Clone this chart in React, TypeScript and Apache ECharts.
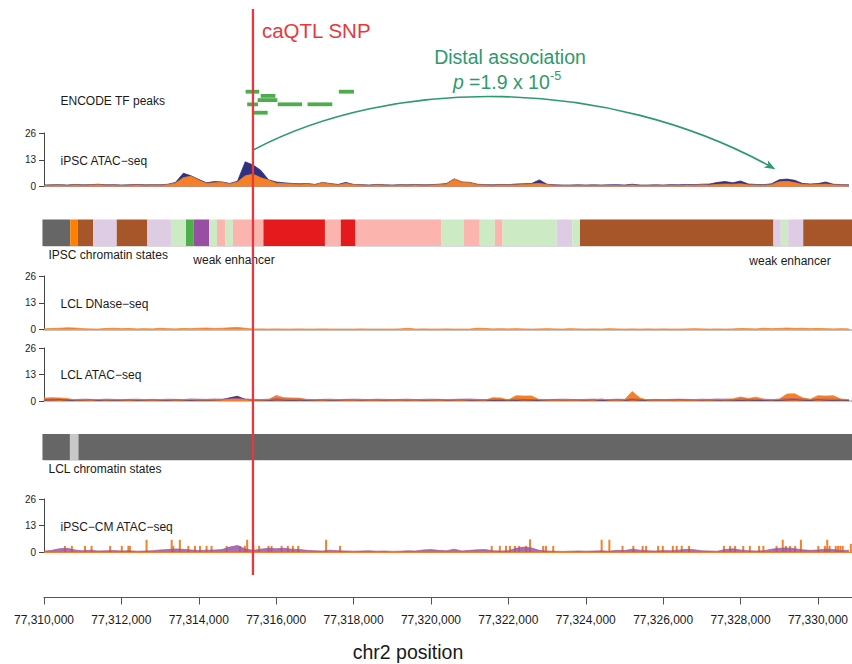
import React, { useEffect, useRef } from "react";
import * as echarts from "echarts";

// ---- genomic window (chr2) ----
const X_MIN = 77310000;
const X_MAX = 77330880;
const X_TICKS = [
  77310000, 77312000, 77314000, 77316000, 77318000, 77320000, 77322000,
  77324000, 77326000, 77328000, 77330000,
];
const BIN_SIZE = 200;
const SNP_POS = 77315400;
const DISTAL_POS = 77328900;
const TRACK_TICKS = [0, 13, 26];

// ENCODE TF peaks: [start, end, row]
const TF_PEAKS = [
  [77315210, 77315560, 0],
  [77317620, 77318010, 0],
  [77315600, 77315980, 1],
  [77315520, 77316030, 2],
  [77315250, 77315530, 3],
  [77316040, 77316670, 3],
  [77316810, 77317450, 3],
  [77315380, 77315780, 5],
];

// iPSC ATAC-seq signal, 200 bp bins from X_MIN
const IPSC_ATAC_DARK = [
  0.7, 0.8, 0.9, 0.7, 1.0, 0.8, 0.9, 1.1, 0.8, 0.9,
  0.7, 0.8, 1.0, 0.8, 0.9, 0.8, 1.1, 2.0, 6.5, 5.2,
  3.4, 1.8, 2.4, 2.2, 1.5, 2.6, 12.0, 10.5, 7.9, 3.3,
  2.2, 1.8, 1.5, 1.3, 1.5, 1.0, 2.0, 1.4, 1.0, 2.0,
  1.0, 0.9, 0.7, 1.0, 0.8, 0.7, 0.9, 0.8, 1.0, 0.8,
  0.9, 1.1, 1.4, 3.7, 2.2, 2.0, 1.1, 0.9, 0.8, 1.0,
  0.9, 1.2, 1.3, 1.5, 3.2, 1.1, 0.8, 0.7, 0.7, 0.8,
  0.7, 0.8, 0.7, 0.8, 0.9, 0.7, 1.1, 0.7, 0.7, 0.8,
  0.7, 0.9, 0.8, 1.0, 0.9, 1.1, 1.2, 2.0, 2.4, 1.8,
  2.7, 1.2, 1.0, 0.9, 1.3, 3.3, 3.6, 3.0, 1.5, 1.2,
  1.4, 2.2, 1.1, 0.9, 0.8,
];
const IPSC_ATAC_ORANGE = [
  0.5, 0.6, 0.7, 0.5, 0.8, 0.6, 0.7, 0.9, 0.6, 0.7,
  0.5, 0.6, 0.8, 0.6, 0.7, 0.6, 0.9, 1.6, 4.3, 5.0,
  3.0, 1.5, 1.8, 2.0, 1.2, 2.2, 5.2, 6.0, 4.3, 3.1,
  1.6, 1.4, 1.2, 1.0, 1.3, 0.8, 1.9, 1.2, 0.7, 1.5,
  0.9, 0.7, 0.5, 0.8, 0.6, 0.5, 0.7, 0.6, 0.8, 0.6,
  0.7, 0.9, 1.2, 3.6, 2.0, 1.8, 0.9, 0.7, 0.6, 0.8,
  0.7, 0.8, 1.0, 1.2, 1.5, 0.9, 0.6, 0.5, 0.5, 0.6,
  0.5, 0.6, 0.5, 0.5, 0.6, 0.5, 0.7, 0.5, 0.5, 0.6,
  0.5, 0.6, 0.5, 0.7, 0.6, 0.8, 0.7, 1.0, 1.2, 1.1,
  1.3, 0.8, 0.7, 0.6, 0.9, 2.3, 2.5, 1.9, 1.0, 0.9,
  1.0, 1.2, 0.8, 0.7, 0.6,
];

// LCL DNase-seq signal
const LCL_DNASE_ORANGE = [
  0.3, 0.5, 0.6, 0.8, 0.7, 0.4, 0.3, 0.2, 0.5, 0.6,
  0.4, 0.5, 0.3, 0.4, 0.3, 0.6, 0.4, 0.3, 0.5, 0.4,
  0.6, 0.7, 0.5, 0.6, 0.8, 1.0, 0.6, 0.2, 0.3, 0.2,
  0.3, 0.2, 0.2, 0.3, 0.2, 0.2, 0.3, 0.2, 0.2, 0.2,
  0.2, 0.3, 0.2, 0.2, 0.2, 0.2, 0.3, 0.6, 0.2, 0.3,
  0.2, 0.2, 0.3, 0.2, 0.2, 0.2, 0.6, 0.5, 0.3, 0.4,
  0.3, 0.4, 0.3, 0.2, 0.3, 0.4, 0.3, 0.2, 0.4, 0.3,
  0.2, 0.3, 0.2, 0.4, 0.3, 0.2, 0.3, 0.2, 0.3, 0.2,
  0.3, 0.2, 0.2, 0.3, 0.4, 0.3, 0.2, 0.3, 0.2, 0.3,
  0.5, 0.4, 0.3, 0.6, 0.4, 0.5, 0.7, 0.5, 0.6, 0.4,
  0.5, 0.4, 0.3, 0.4, 0.3,
];

// LCL ATAC-seq signal
const LCL_ATAC_DARK = [
  0.4, 0.5, 0.6, 0.4, 0.3, 0.4, 0.5, 0.3, 0.4, 0.3,
  0.3, 0.4, 0.3, 0.3, 0.4, 0.3, 0.3, 0.4, 0.3, 0.3,
  0.4, 0.3, 0.5, 0.6, 1.6, 2.3, 0.8, 0.4, 0.3, 0.3,
  0.5, 0.4, 0.3, 0.4, 0.3, 0.3, 0.4, 0.3, 0.3, 0.4,
  0.3, 0.3, 0.4, 0.3, 0.3, 0.4, 0.3, 0.3, 0.4, 0.3,
  0.3, 0.4, 0.3, 0.3, 0.4, 0.3, 0.3, 0.4, 0.3, 0.3,
  0.4, 0.3, 0.5, 0.4, 0.3, 0.3, 0.4, 0.3, 0.3, 0.4,
  0.3, 0.4, 0.3, 0.3, 0.4, 0.3, 0.6, 0.4, 0.3, 0.3,
  0.4, 0.3, 0.6, 0.4, 0.3, 0.3, 0.4, 0.3, 0.5, 0.4,
  0.3, 0.4, 0.3, 0.3, 0.4, 0.3, 0.5, 0.6, 0.4, 0.3,
  0.6, 0.4, 0.3, 0.4, 0.3,
];
const LCL_ATAC_PURPLE = [
  0.8, 1.0, 0.9, 0.8, 0.7, 0.9, 0.8, 0.7, 0.9, 0.8,
  0.7, 0.8, 0.9, 0.7, 0.8, 0.7, 0.9, 0.8, 0.7, 1.0,
  0.9, 0.8, 1.0, 0.9, 1.2, 1.4, 1.0, 0.8, 0.7, 0.9,
  1.2, 1.0, 0.9, 1.1, 0.8, 0.7, 0.8, 0.9, 0.7, 0.8,
  0.9, 0.8, 0.7, 0.9, 0.8, 0.7, 0.8, 0.9, 0.7, 0.8,
  0.9, 0.8, 0.7, 0.8, 0.9, 1.0, 0.8, 0.7, 0.9, 0.8,
  0.7, 0.9, 0.8, 0.7, 0.8, 0.7, 0.8, 0.9, 0.8, 0.7,
  0.8, 0.9, 0.8, 0.7, 0.9, 0.8, 1.0, 0.8, 0.7, 0.8,
  0.7, 0.8, 0.9, 0.8, 0.7, 0.9, 0.8, 1.0, 0.9, 0.8,
  1.0, 0.9, 0.8, 0.9, 0.7, 0.9, 1.1, 1.2, 1.0, 0.8,
  0.9, 1.0, 0.9, 0.8, 0.7,
];
const LCL_ATAC_ORANGE = [
  1.4, 1.6, 1.5, 1.2, 0.5, 0.6, 0.4, 0.7, 0.5, 0.6,
  0.5, 0.4, 0.6, 0.5, 0.4, 0.5, 0.6, 0.4, 0.5, 0.7,
  0.6, 0.5, 0.7, 0.6, 0.8, 1.0, 0.7, 0.5, 0.4, 0.6,
  2.7, 1.6, 1.5, 1.4, 0.6, 0.5, 0.4, 0.6, 0.5, 0.4,
  0.3, 0.5, 0.4, 0.3, 0.5, 0.4, 0.3, 0.4, 0.3, 0.5,
  0.4, 0.3, 0.5, 0.4, 0.3, 0.6, 0.5, 0.4, 1.6, 1.5,
  0.5, 2.6, 2.4, 2.5, 0.6, 0.4, 0.3, 0.4, 0.3, 0.4,
  0.5, 0.3, 1.0, 0.4, 0.3, 0.5, 4.7, 1.5, 0.4, 0.3,
  0.4, 0.3, 0.5, 0.4, 0.3, 0.5, 0.4, 0.6, 0.8, 1.0,
  2.0, 1.2, 1.9, 0.8, 0.6, 0.9, 3.4, 3.5, 1.6, 0.8,
  2.6, 2.4, 2.6, 0.9, 0.7,
];

// iPSC-CM ATAC-seq: low purple signal plus narrow orange read piles [position, height]
const CM_ATAC_PURPLE = [
  0.4, 0.8, 1.6, 1.8, 1.0, 0.6, 0.9, 0.5, 0.6, 0.7,
  0.5, 0.6, 0.4, 0.5, 0.6, 1.0, 1.2, 1.5, 1.3, 1.0,
  0.7, 0.9, 1.0, 1.2, 2.4, 3.2, 1.5, 0.8, 1.4, 1.8,
  1.6, 1.8, 1.4, 1.2, 0.8, 0.6, 0.5, 0.9, 0.6, 0.5,
  0.4, 0.5, 0.6, 0.4, 0.5, 0.3, 0.4, 0.6, 0.5, 1.0,
  1.2, 0.8, 0.6, 1.4, 0.5, 0.8, 1.1, 1.2, 0.6, 0.5,
  0.6, 1.8, 2.4, 2.0, 0.8, 0.5, 0.4, 0.3, 0.4, 0.5,
  0.4, 0.5, 0.6, 0.4, 0.8, 0.7, 1.4, 0.9, 0.6, 0.5,
  0.7, 0.6, 0.9, 1.3, 1.1, 0.6, 0.5, 0.4, 1.2, 1.6,
  1.0, 0.6, 0.5, 0.6, 1.4, 1.8, 2.0, 1.6, 1.1, 0.8,
  1.0, 1.4, 1.2, 0.7, 0.9,
];
const CM_ATAC_SPIKES = [
  [77310540, 3], [77310720, 3], [77311060, 3], [77311230, 3], [77311710, 3],
  [77312010, 3], [77312180, 3], [77312220, 3], [77312650, 6], [77313300, 6],
  [77313340, 3], [77313510, 6], [77313730, 3], [77313900, 3], [77314030, 3],
  [77314200, 3], [77314330, 3], [77314720, 3], [77315060, 3], [77315190, 3],
  [77315250, 6], [77315410, 3], [77315560, 3], [77315800, 3], [77315880, 3],
  [77316140, 3], [77316300, 3], [77316430, 3], [77316570, 3], [77317290, 6],
  [77317650, 3], [77321570, 3], [77321780, 3], [77321940, 3], [77322040, 3],
  [77322170, 3], [77322280, 3], [77322460, 3], [77322560, 6.2], [77322900, 3],
  [77322970, 3], [77323160, 3], [77324410, 6], [77324610, 6], [77324950, 3],
  [77325230, 3], [77325470, 3], [77325560, 3], [77325870, 3], [77325990, 3],
  [77326250, 3], [77326350, 3], [77326480, 3], [77326670, 3], [77327570, 3],
  [77327730, 3], [77327860, 3], [77328070, 3], [77328240, 3], [77328480, 3],
  [77328590, 3], [77328930, 3], [77329090, 6], [77329170, 3], [77329280, 3],
  [77329410, 3], [77329560, 6], [77330010, 3], [77330180, 3], [77330240, 6],
  [77330300, 3], [77330460, 3], [77330520, 3], [77330580, 3], [77330640, 3],
  [77330850, 4],
];

// chromatin state segments: [start, end, state]
const STATE_NAMES = [
  "heterochromatin", "tssFlank", "transcribed", "weakTranscribed",
  "weakEnhancerAlt", "genicEnhancer", "bivalent", "weakEnhancer",
  "strongEnhancer", "lowSignal",
];
const STATE_COLORS = [
  "#666666", "#ff7f00", "#a65628", "#decbe4",
  "#ccebc5", "#4daf4a", "#984ea3", "#fbb4ae",
  "#e41a1c", "#c8c8c8",
];
const IPSC_STATES: [number, number, string][] = [
  [77309960, 77310680, "heterochromatin"],
  [77310680, 77310870, "tssFlank"],
  [77310870, 77311270, "transcribed"],
  [77311270, 77311880, "weakTranscribed"],
  [77311880, 77312670, "transcribed"],
  [77312670, 77313280, "weakTranscribed"],
  [77313280, 77313670, "weakEnhancerAlt"],
  [77313670, 77313870, "genicEnhancer"],
  [77313870, 77314270, "bivalent"],
  [77314270, 77314470, "weakEnhancerAlt"],
  [77314470, 77314680, "weakEnhancer"],
  [77314680, 77314880, "weakEnhancerAlt"],
  [77314880, 77315670, "weakEnhancer"],
  [77315670, 77317260, "strongEnhancer"],
  [77317260, 77317670, "weakEnhancer"],
  [77317670, 77318050, "strongEnhancer"],
  [77318050, 77320260, "weakEnhancer"],
  [77320260, 77320850, "weakEnhancerAlt"],
  [77320850, 77321260, "weakEnhancer"],
  [77321260, 77321650, "weakEnhancerAlt"],
  [77321650, 77321850, "weakEnhancer"],
  [77321850, 77323250, "weakEnhancerAlt"],
  [77323250, 77323650, "weakTranscribed"],
  [77323650, 77323850, "weakEnhancerAlt"],
  [77323850, 77328850, "transcribed"],
  [77328850, 77329040, "weakTranscribed"],
  [77329040, 77329230, "weakEnhancerAlt"],
  [77329230, 77329620, "weakTranscribed"],
  [77329620, 77330900, "transcribed"],
];
const LCL_STATES: [number, number, string][] = [
  [77309960, 77310670, "heterochromatin"],
  [77310670, 77310890, "lowSignal"],
  [77310890, 77330900, "heterochromatin"],
];

const FONT = '"Liberation Sans", Arial, Helvetica, sans-serif';
const ORANGE = "#f58025";
const NAVY = "#2e3280";
const PURPLE = "#9a55a8";
const GREEN = "#2e9a6c";
const RED = "#e8383d";
const TF_GREEN = "#4dac4d";

const LEFT = 44;
const GRIDS = [
  { top: 89.6, height: 25.2 }, // 0 TF peaks
  { top: 133, height: 53.5 }, // 1 iPSC ATAC
  { top: 219.5, height: 26.5 }, // 2 iPSC chromatin states
  { top: 276, height: 53.5 }, // 3 LCL DNase
  { top: 348, height: 53 }, // 4 LCL ATAC
  { top: 434, height: 26 }, // 5 LCL chromatin states
  { top: 499, height: 53 }, // 6 iPSC-CM ATAC
  { top: 590, height: 7.5 }, // 7 position axis
];
const TRACK_GRIDS = [1, 3, 4, 6];

const withCommas = (v: number) =>
  String(Math.round(v)).replace(/\B(?=(\d{3})+(?!\d))/g, ",");

const binned = (vals: number[]) =>
  vals.map((v, i) => [X_MIN + i * BIN_SIZE, v]);

function areaSeries(grid: number, vals: number[], color: string, opacity = 1) {
  return {
    type: "line",
    xAxisIndex: grid,
    yAxisIndex: grid,
    data: binned(vals),
    symbol: "none",
    silent: true,
    lineStyle: { color, width: 0.8, opacity },
    areaStyle: { color, opacity },
  };
}

function stateSeries(grid: number, segs: [number, number, string][]) {
  return {
    type: "custom",
    xAxisIndex: grid,
    yAxisIndex: grid,
    clip: false,
    silent: true,
    data: segs.map(([s, e, k]) => [s, e, STATE_NAMES.indexOf(k)]),
    encode: { x: [0, 1], y: 2 },
    renderItem: (_p: any, api: any) => {
      const a = api.coord([api.value(0), 1]);
      const b = api.coord([api.value(1), 0]);
      return {
        type: "rect",
        shape: { x: a[0], y: a[1], width: b[0] - a[0], height: b[1] - a[1] },
        style: { fill: STATE_COLORS[api.value(2)] },
      };
    },
  };
}

function buildOption() {
  const grid = GRIDS.map((g) => ({ left: LEFT, right: 0, top: g.top, height: g.height }));

  const xAxis = GRIDS.map((_, i) => {
    const base: any = {
      type: "value",
      gridIndex: i,
      min: X_MIN,
      max: X_MAX,
      splitLine: { show: false },
      axisTick: { show: false },
      axisLabel: { show: false },
      axisLine: { show: false },
    };
    if (i === 2 || i === 5) {
      base.axisLine = { show: true, lineStyle: { color: "#cfcfcf", width: 1.5 } };
    }
    if (i === 3 || i === 4) {
      base.axisLine = { show: true, lineStyle: { color: "#c9c3c0", width: 2 } };
    }
    if (i === 6) {
      base.axisLine = { show: true, lineStyle: { color: ORANGE, width: 1.2 } };
    }
    if (i === 7) {
      base.axisLine = { show: true, lineStyle: { color: "#555555", width: 1 } };
      base.axisTick = {
        show: true,
        length: 7,
        customValues: X_TICKS,
        lineStyle: { color: "#555555", width: 1 },
      };
      base.axisLabel = {
        show: true,
        customValues: X_TICKS,
        formatter: (v: number) => withCommas(v),
        fontFamily: FONT,
        fontSize: 12,
        color: "#1a1a1a",
        margin: 16,
      };
    }
    return base;
  });

  const yAxis = GRIDS.map((_, i) => {
    if (TRACK_GRIDS.includes(i)) {
      return {
        type: "value",
        gridIndex: i,
        min: TRACK_TICKS[0],
        max: TRACK_TICKS[2],
        interval: TRACK_TICKS[1],
        splitLine: { show: false },
        axisLine: { show: true, lineStyle: { color: "#444444", width: 1 } },
        axisTick: { show: true, length: 5, lineStyle: { color: "#444444" } },
        axisLabel: { fontFamily: FONT, fontSize: 10, color: "#222222", margin: 8 },
      };
    }
    if (i === 0) {
      return { type: "value", gridIndex: 0, min: 0, max: 6, inverse: true, show: false };
    }
    return { type: "value", gridIndex: i, min: 0, max: 1, show: false };
  });

  const series: any[] = [
    {
      type: "custom",
      xAxisIndex: 0,
      yAxisIndex: 0,
      silent: true,
      data: TF_PEAKS,
      encode: { x: [0, 1], y: 2 },
      renderItem: (_p: any, api: any) => {
        const row = api.value(2) + 0.5;
        const a = api.coord([api.value(0), row]);
        const b = api.coord([api.value(1), row]);
        return {
          type: "rect",
          shape: { x: a[0], y: a[1] - 1.9, width: b[0] - a[0], height: 3.8 },
          style: { fill: TF_GREEN },
        };
      },
    },
    areaSeries(1, IPSC_ATAC_DARK, NAVY),
    areaSeries(1, IPSC_ATAC_ORANGE, ORANGE),
    stateSeries(2, IPSC_STATES),
    areaSeries(3, LCL_DNASE_ORANGE, ORANGE),
    areaSeries(4, LCL_ATAC_DARK, NAVY),
    areaSeries(4, LCL_ATAC_PURPLE, PURPLE, 0.85),
    areaSeries(4, LCL_ATAC_ORANGE, ORANGE),
    stateSeries(5, LCL_STATES),
    areaSeries(6, CM_ATAC_PURPLE, PURPLE, 0.85),
    {
      type: "custom",
      xAxisIndex: 6,
      yAxisIndex: 6,
      silent: true,
      data: CM_ATAC_SPIKES,
      encode: { x: 0, y: 1 },
      renderItem: (_p: any, api: any) => {
        const top = api.coord([api.value(0), api.value(1)]);
        const base = api.coord([api.value(0), 0]);
        return {
          type: "rect",
          shape: { x: top[0] - 1, y: top[1], width: 2, height: base[1] - top[1] },
          style: { fill: ORANGE },
        };
      },
    },
  ];

  return { animation: false, backgroundColor: "#ffffff", grid, xAxis, yAxis, series };
}

function label(text: string, x: number, y: number, size = 12, extra: any = {}) {
  return {
    type: "text",
    z: 50,
    silent: true,
    style: {
      text,
      x,
      y,
      fill: "#1a1a1a",
      font: `${size}px ${FONT}`,
      textAlign: "left",
      textVerticalAlign: "middle",
      ...extra,
    },
  };
}

export default function App() {
  const ref = useRef<HTMLDivElement>(null);

  useEffect(() => {
    if (!ref.current) return;
    const chart = echarts.init(ref.current, undefined, { renderer: "svg" });
    chart.setOption(buildOption() as any);

    // SNP marker and the distal-association arrow, placed from genomic positions
    const snpX = chart.convertToPixel({ gridIndex: 1 } as any, [SNP_POS, 0])[0];
    const p0 = chart.convertToPixel({ gridIndex: 1 } as any, [SNP_POS, 17.7]);
    const p3 = chart.convertToPixel({ gridIndex: 1 } as any, [DISTAL_POS, 8.4]);
    const c1 = [p0[0] + 140, p0[1] - 74];
    const c2 = [p3[0] - 169, p3[1] - 93];
    const dx = p3[0] - c2[0];
    const dy = p3[1] - c2[1];
    const len = Math.hypot(dx, dy);
    const ux = dx / len;
    const uy = dy / len;
    const head = 11;
    const half = 4.2;
    const bx = p3[0] - ux * head;
    const by = p3[1] - uy * head;

    const graphics: any[] = [
      {
        type: "line",
        z: 100,
        silent: true,
        shape: { x1: snpX, y1: 9, x2: snpX, y2: 575 },
        style: { stroke: RED, lineWidth: 2.3 },
      },
      label("caQTL SNP", snpX + 9, 30.5, 20.5, { fill: RED }),
      label("Distal association", 510, 56.5, 19.5, { fill: GREEN, textAlign: "center" }),
      label("p", 453, 82, 19.5, { fill: GREEN, font: `italic 19.5px ${FONT}` }),
      label("=1.9 x 10", 469, 82, 19.5, { fill: GREEN }),
      label("-5", 550, 76, 12.5, { fill: GREEN }),
      {
        type: "bezierCurve",
        z: 60,
        silent: true,
        shape: {
          x1: p0[0], y1: p0[1], x2: p3[0] - ux * 6, y2: p3[1] - uy * 6,
          cpx1: c1[0], cpy1: c1[1], cpx2: c2[0], cpy2: c2[1],
        },
        style: { stroke: GREEN, lineWidth: 1.6, fill: null },
      },
      {
        type: "polygon",
        z: 60,
        silent: true,
        shape: {
          points: [
            [p3[0], p3[1]],
            [bx - uy * half, by + ux * half],
            [bx + ux * 3, by + uy * 3],
            [bx + uy * half, by - ux * half],
          ],
        },
        style: { fill: GREEN },
      },
      label("ENCODE TF peaks", 60.5, 101, 12),
      label("iPSC ATAC\u2212seq", 60.5, 161, 12),
      label("IPSC chromatin states", 48.5, 255, 12),
      label("weak enhancer", 234, 259.5, 12, { textAlign: "center" }),
      label("weak enhancer", 790, 260.5, 12, { textAlign: "center" }),
      label("LCL DNase\u2212seq", 60.5, 303.5, 12),
      label("LCL ATAC\u2212seq", 60.5, 375.3, 12),
      label("LCL chromatin states", 48.5, 468.5, 12),
      label("iPSC\u2212CM ATAC\u2212seq", 60.5, 526.5, 12),
      label("chr2 position", 408, 652, 19.5, { textAlign: "center" }),
    ];
    chart.setOption({ graphic: { elements: graphics } } as any);

    return () => chart.dispose();
  }, []);

  return (
    <div
      ref={ref}
      style={{ position: "absolute", left: 0, top: 0, width: 852, height: 664 }}
    />
  );
}
